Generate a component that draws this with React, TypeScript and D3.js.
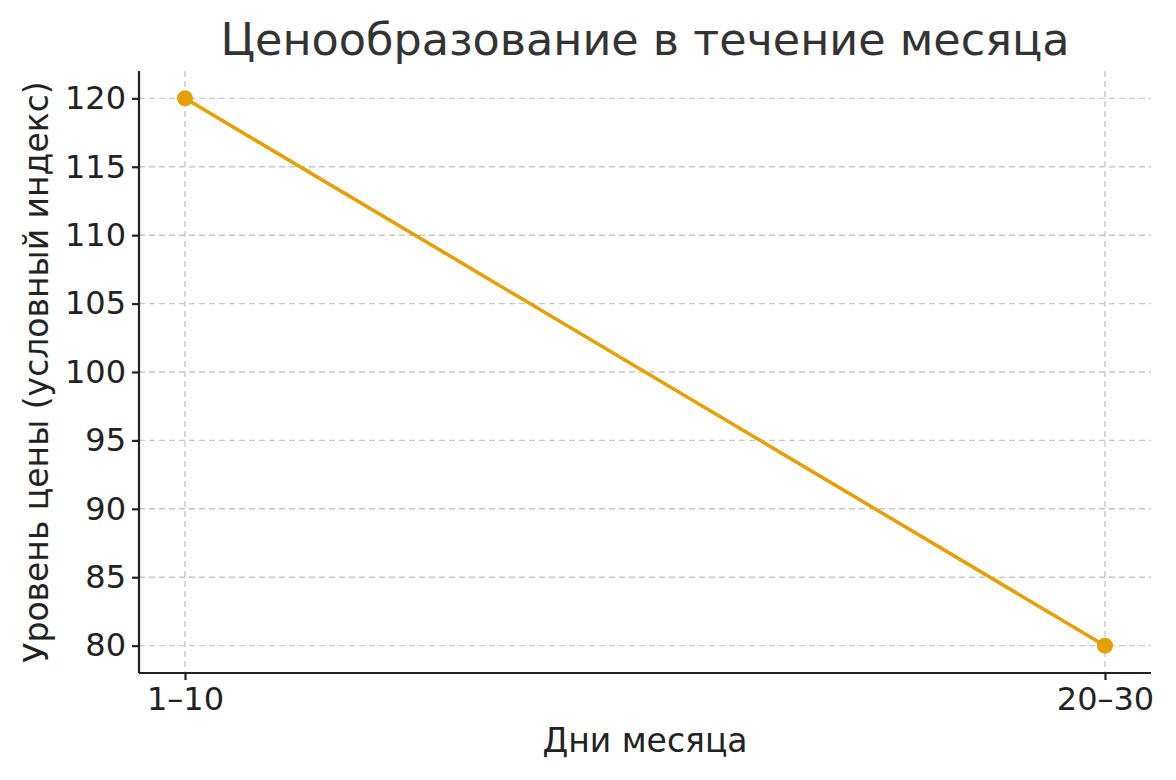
import React, { useRef, useEffect } from "react";
import * as d3 from "d3";

const categories = ["1–10", "20–30"];
const prices = [120, 80];
const yTicks = [80, 85, 90, 95, 100, 105, 110, 115, 120];

const title = "Ценообразование в течение месяца";
const xTitle = "Дни месяца";
const yTitle = "Уровень цены (условный индекс)";

const App: React.FC = () => {
    const svgRef = useRef<SVGSVGElement | null>(null);

    useEffect(() => {
        if (!svgRef.current) return;

        const width = 1176;
        const height = 780;
        const margin = { top: 71, right: 25, bottom: 107, left: 139 };
        const font = "'DejaVu Sans', sans-serif";
        const lineColor = "#E69F00";

        const svg = d3.select(svgRef.current)
            .attr("width", width)
            .attr("height", height);

        svg.selectAll("*").remove(); // Clear previous render

        svg.append("rect").attr("width", width).attr("height", height).attr("fill", "white");

        const x = d3.scalePoint<string>()
            .domain(categories)
            .range([margin.left, width - margin.right])
            .padding(0.05);

        const y = d3.scaleLinear()
            .domain([78, 122])
            .range([height - margin.bottom, margin.top]);

        const grid = svg.append("g")
            .attr("stroke", "#c8c8c8")
            .attr("stroke-width", 1.4)
            .attr("stroke-dasharray", "6,4");

        grid.selectAll("line.h")
            .data(yTicks)
            .join("line")
            .attr("class", "h")
            .attr("x1", margin.left)
            .attr("x2", width - margin.right)
            .attr("y1", d => y(d))
            .attr("y2", d => y(d));

        grid.selectAll("line.v")
            .data(categories)
            .join("line")
            .attr("class", "v")
            .attr("x1", d => x(d)!)
            .attr("x2", d => x(d)!)
            .attr("y1", margin.top)
            .attr("y2", height - margin.bottom);

        const xAxis = svg.append("g")
            .attr("transform", `translate(0,${height - margin.bottom})`)
            .call(d3.axisBottom(x).tickSize(7).tickPadding(7));

        const yAxis = svg.append("g")
            .attr("transform", `translate(${margin.left},0)`)
            .call(d3.axisLeft(y).tickValues(yTicks).tickSize(7).tickPadding(6));

        [xAxis, yAxis].forEach(ax => {
            ax.select(".domain").attr("stroke", "#222").attr("stroke-width", 2.2);
            ax.selectAll(".tick line").attr("stroke", "#222").attr("stroke-width", 2.2);
            ax.selectAll(".tick text")
                .attr("fill", "#222")
                .style("font-family", font)
                .style("font-size", "32px");
        });
        xAxis.select(".domain").attr("d", `M${margin.left},0H${width - margin.right}`);
        yAxis.select(".domain").attr("d", `M0,${margin.top}V${height - margin.bottom}`);

        const pts = categories.map((c, i) => ({ c, v: prices[i] }));

        svg.append("path")
            .datum(pts)
            .attr("fill", "none")
            .attr("stroke", lineColor)
            .attr("stroke-width", 3.5)
            .attr("d", d3.line<{ c: string; v: number }>().x(d => x(d.c)!).y(d => y(d.v)));

        svg.append("g")
            .selectAll("circle")
            .data(pts)
            .join("circle")
            .attr("cx", d => x(d.c)!)
            .attr("cy", d => y(d.v))
            .attr("r", 8)
            .attr("fill", lineColor);

        svg.append("text")
            .attr("x", (margin.left + width - margin.right) / 2)
            .attr("y", 55)
            .attr("text-anchor", "middle")
            .attr("fill", "#333")
            .style("font-family", font)
            .style("font-size", "44.5px")
            .text(title);

        svg.append("text")
            .attr("x", (margin.left + width - margin.right) / 2)
            .attr("y", 752)
            .attr("text-anchor", "middle")
            .attr("fill", "#222")
            .style("font-family", font)
            .style("font-size", "33px")
            .text(xTitle);

        svg.append("text")
            .attr("transform", `translate(48,${(margin.top + height - margin.bottom) / 2}) rotate(-90)`)
            .attr("text-anchor", "middle")
            .attr("fill", "#222")
            .style("font-family", font)
            .style("font-size", "33px")
            .text(yTitle);
    }, []);

    return <svg ref={svgRef} style={{ position: "absolute", left: 0, top: 0 }} />;
};

export default App;
